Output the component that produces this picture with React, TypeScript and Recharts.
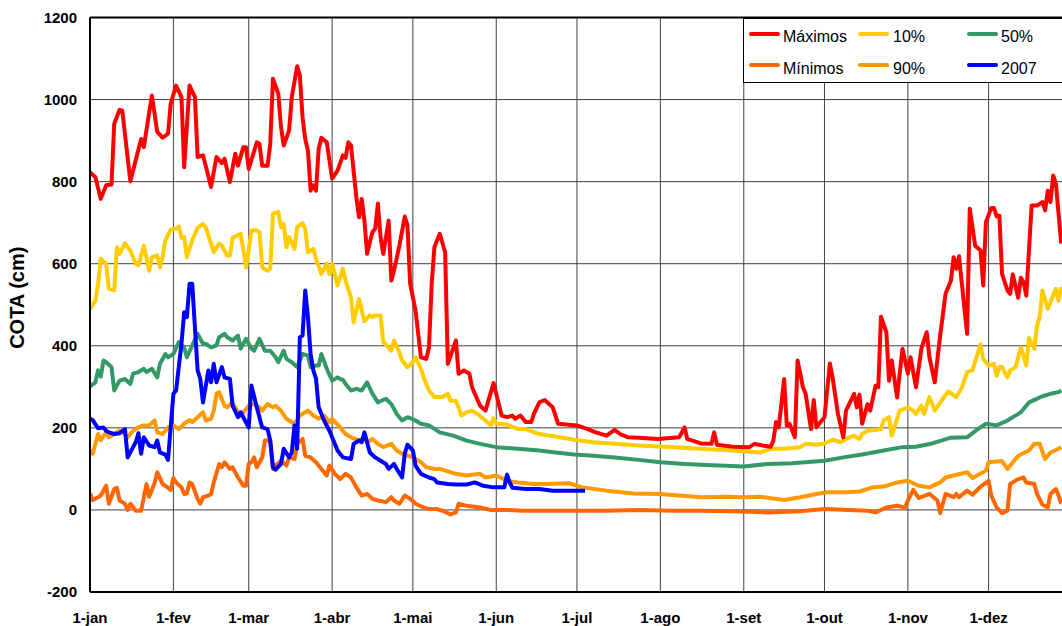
import React from 'react';
import { LineChart, Line, XAxis, YAxis, CartesianGrid, ReferenceLine, Legend } from 'recharts';

const monthTicks = [0, 31, 59, 90, 120, 151, 181, 212, 243, 273, 304, 334];
const monthLabels = ['1-jan', '1-fev', '1-mar', '1-abr', '1-mai', '1-jun', '1-jul', '1-ago', '1-set', '1-out', '1-nov', '1-dez'];
const yTicks = [-200, 0, 200, 400, 600, 800, 1000, 1200];

type P = [number, number];

const maximos: P[] = [[0,823],[2,811],[4,758],[6,791],[8,793],[9,941],[11,975],[12,973],[15,801],[19,904],[20,884],[23,1010],[25,921],[27,907],[29,917],[30,990],[32,1034],[34,1006],[35,835],[37,1034],[39,1006],[40,860],[42,864],[43,839],[45,787],[47,860],[49,845],[50,856],[52,799],[54,868],[55,839],[57,884],[58,884],[59,831],[62,896],[63,892],[64,839],[66,839],[67,892],[68,1051],[70,1014],[71,933],[72,888],[74,925],[75,1006],[77,1081],[78,1059],[79,957],[80,904],[81,876],[82,778],[83,791],[84,778],[85,880],[86,907],[88,896],[89,852],[90,807],[92,827],[94,864],[95,858],[96,896],[97,888],[99,762],[100,713],[101,758],[102,705],[103,624],[104,652],[105,677],[106,685],[107,747],[108,665],[109,624],[111,705],[112,559],[113,583],[115,644],[117,715],[118,693],[119,551],[121,486],[122,429],[123,372],[125,368],[126,396],[127,551],[128,640],[130,673],[132,628],[133,356],[136,413],[137,332],[139,340],[141,332],[142,299],[145,254],[147,242],[150,309],[153,230],[155,226],[157,230],[158,222],[160,230],[162,214],[164,214],[165,234],[167,262],[169,268],[170,262],[172,250],[174,210],[181,206],[185,197],[188,189],[192,181],[195,195],[197,185],[200,177],[204,176],[211,173],[219,177],[221,201],[222,173],[227,162],[231,161],[232,189],[233,159],[239,154],[245,153],[247,161],[250,157],[253,154],[254,169],[255,214],[256,201],[258,319],[259,206],[260,210],[262,177],[263,364],[265,299],[266,283],[268,197],[269,268],[270,201],[271,210],[273,226],[275,357],[276,323],[278,234],[280,177],[281,242],[284,283],[285,250],[286,281],[287,210],[289,258],[290,242],[292,303],[293,299],[294,471],[296,433],[297,315],[298,364],[300,274],[301,335],[302,393],[304,332],[305,372],[307,299],[309,393],[311,433],[312,372],[314,311],[316,425],[318,527],[320,559],[321,616],[322,588],[323,618],[326,429],[327,734],[329,644],[331,632],[332,547],[333,701],[335,736],[336,736],[337,715],[338,717],[339,575],[341,535],[342,527],[343,574],[345,517],[346,566],[347,555],[348,522],[350,742],[352,742],[354,750],[355,730],[356,778],[357,750],[358,815],[359,795],[361,649]];

const minimos: P[] = [[0,40],[1,24],[3,31],[4,35],[6,59],[7,15],[9,51],[10,54],[11,23],[13,15],[14,0],[15,15],[17,-2],[19,-2],[21,63],[22,32],[24,65],[25,92],[27,63],[28,59],[30,49],[31,78],[32,67],[34,55],[35,39],[36,40],[37,67],[38,63],[40,27],[41,15],[42,31],[44,35],[45,39],[46,67],[48,112],[49,104],[50,116],[52,100],[53,104],[55,79],[57,59],[58,59],[59,112],[60,116],[61,128],[62,104],[64,128],[65,169],[67,169],[68,100],[69,108],[71,120],[73,108],[74,128],[76,124],[77,161],[79,173],[80,132],[82,128],[84,116],[86,100],[88,84],[89,108],[91,88],[93,75],[95,88],[97,79],[99,55],[101,35],[103,39],[105,27],[107,23],[110,19],[112,31],[113,23],[115,15],[117,35],[119,27],[121,15],[124,6],[126,2],[129,2],[131,-2],[134,-11],[136,-6],[137,15],[140,10],[145,6],[149,0],[155,0],[161,-2],[167,-2],[180,-2],[192,-2],[204,0],[217,-2],[227,-2],[239,-3],[252,-6],[264,-3],[273,2],[282,0],[289,-2],[292,-6],[296,6],[300,10],[303,6],[304,23],[306,49],[308,29],[312,39],[315,23],[316,-8],[318,39],[321,31],[322,39],[323,31],[326,47],[328,37],[331,57],[334,71],[335,35],[337,6],[339,-8],[341,-2],[342,63],[345,75],[347,79],[348,67],[351,63],[352,39],[354,13],[356,6],[357,39],[359,51],[360,35],[361,15]];

const p10: P[] = [[0,490],[2,510],[3,551],[4,612],[6,600],[7,539],[9,535],[10,640],[11,624],[13,650],[15,632],[17,600],[18,596],[20,644],[22,583],[23,616],[25,620],[26,591],[27,616],[28,657],[30,683],[32,685],[33,691],[34,663],[35,665],[36,616],[38,657],[40,688],[42,697],[43,689],[45,649],[46,628],[48,649],[49,644],[51,620],[52,620],[53,663],[56,673],[58,591],[60,681],[62,681],[63,677],[64,591],[66,583],[67,588],[68,722],[70,726],[71,689],[72,697],[73,640],[74,665],[76,636],[77,689],[79,699],[80,685],[81,628],[83,636],[84,612],[86,575],[88,600],[89,575],[90,600],[92,547],[94,588],[95,559],[97,518],[98,457],[100,514],[102,460],[104,474],[105,470],[106,474],[108,474],[109,409],[111,396],[112,388],[113,413],[115,384],[116,364],[118,348],[120,360],[121,372],[123,344],[124,323],[126,291],[128,275],[131,275],[133,283],[134,266],[136,266],[137,250],[138,230],[140,238],[142,242],[144,234],[147,218],[149,206],[150,224],[151,210],[155,208],[159,197],[162,197],[167,185],[173,179],[180,171],[187,165],[195,161],[204,157],[217,153],[227,149],[239,145],[249,140],[253,149],[258,149],[264,153],[266,161],[270,159],[273,162],[276,171],[279,165],[281,173],[284,181],[286,173],[287,185],[289,193],[292,195],[294,197],[295,218],[297,226],[298,181],[300,222],[301,242],[304,250],[306,242],[307,234],[309,254],[310,234],[312,275],[314,242],[317,271],[319,289],[322,275],[324,297],[326,336],[328,340],[329,362],[331,403],[332,368],[334,352],[336,356],[337,327],[338,348],[339,348],[341,323],[342,340],[344,348],[346,396],[348,352],[349,419],[351,393],[352,449],[353,470],[354,535],[356,490],[359,539],[360,510],[361,543]];

const p50: P[] = [[0,301],[2,311],[3,340],[4,325],[5,364],[6,360],[8,348],[9,291],[11,315],[13,319],[15,307],[16,332],[18,336],[20,344],[21,336],[23,344],[25,323],[26,356],[28,380],[29,372],[31,380],[33,409],[35,396],[36,372],[38,401],[40,429],[42,405],[43,405],[45,396],[47,401],[48,421],[50,429],[51,421],[53,413],[55,425],[56,393],[58,417],[60,393],[61,388],[63,417],[65,388],[67,388],[69,372],[70,360],[72,388],[73,368],[75,360],[77,348],[79,380],[81,376],[82,348],[84,352],[85,352],[86,380],[88,344],[90,315],[92,323],[93,319],[94,317],[95,307],[97,291],[99,295],[101,291],[103,311],[105,283],[107,262],[110,271],[112,258],[114,234],[116,218],[118,226],[121,218],[123,210],[126,206],[130,189],[135,181],[140,169],[145,161],[151,153],[159,149],[167,145],[173,140],[180,135],[187,132],[195,128],[204,122],[212,116],[221,112],[227,110],[243,106],[252,112],[261,114],[273,120],[280,128],[287,135],[295,145],[302,153],[307,154],[313,162],[320,176],[326,177],[330,197],[333,210],[337,206],[341,218],[346,238],[349,262],[354,277],[357,283],[360,287],[361,291]];

const p90: P[] = [[0,145],[1,137],[3,185],[4,170],[6,189],[7,177],[9,185],[11,193],[12,189],[14,177],[16,193],[18,201],[20,206],[22,206],[24,218],[25,189],[27,185],[29,201],[31,206],[33,197],[35,210],[37,219],[38,214],[40,226],[42,238],[43,218],[45,222],[46,242],[47,283],[48,287],[50,254],[51,250],[53,262],[55,238],[56,230],[59,254],[61,258],[63,250],[64,242],[66,258],[68,250],[69,254],[71,242],[73,222],[76,210],[78,230],[81,242],[83,230],[85,222],[87,230],[89,214],[90,222],[93,201],[95,185],[97,177],[100,169],[102,177],[103,165],[105,173],[107,161],[109,153],[112,161],[114,145],[116,137],[120,128],[123,116],[125,104],[128,100],[130,100],[136,88],[140,84],[145,88],[147,79],[151,84],[155,71],[159,67],[165,63],[170,63],[178,65],[183,55],[192,47],[202,40],[212,39],[219,35],[227,31],[237,32],[243,31],[249,32],[258,24],[264,31],[270,39],[274,43],[281,43],[286,45],[291,55],[295,57],[300,67],[304,71],[308,59],[312,55],[316,67],[318,79],[321,84],[326,92],[328,78],[333,96],[334,116],[339,119],[341,100],[345,132],[349,145],[351,161],[353,161],[355,124],[357,140],[360,149],[361,153]];

const ano2007: P[] = [[0,222],[1,219],[3,199],[5,201],[6,193],[7,189],[9,185],[11,187],[13,197],[14,128],[16,153],[17,165],[18,187],[19,137],[20,177],[22,157],[24,153],[25,169],[26,140],[28,135],[29,122],[31,283],[32,291],[34,405],[35,482],[36,470],[37,551],[38,551],[39,445],[40,340],[41,319],[42,262],[44,340],[45,311],[46,356],[47,311],[49,348],[50,323],[52,319],[53,254],[55,226],[56,238],[59,201],[60,303],[62,250],[64,201],[66,197],[67,169],[68,104],[69,98],[71,112],[72,149],[74,128],[75,140],[76,206],[77,149],[78,421],[79,425],[80,535],[81,470],[82,380],[83,340],[84,320],[85,250],[87,218],[89,193],[90,177],[92,145],[94,128],[97,124],[98,161],[100,169],[101,165],[102,189],[104,140],[106,128],[108,120],[110,112],[111,100],[113,112],[114,100],[116,79],[117,137],[118,159],[120,145],[121,108],[123,88],[126,79],[128,75],[129,67],[133,63],[136,62],[140,62],[143,67],[146,59],[150,55],[154,55],[155,86],[156,67],[157,54],[162,51],[167,51],[172,47],[177,47],[184,47]];

const series = [
  { key: 'min', name: 'Mínimos', color: '#FF6600', pts: minimos },
  { key: 'p90', name: '90%', color: '#FF9900', pts: p90 },
  { key: 'p50', name: '50%', color: '#339966', pts: p50 },
  { key: 'p10', name: '10%', color: '#FFCC00', pts: p10 },
  { key: 'max', name: 'Máximos', color: '#FF0000', pts: maximos },
  { key: 'y2007', name: '2007', color: '#0000FF', pts: ano2007 },
];

const legendRows = [['max', 'p10', 'p50'], ['min', 'p90', 'y2007']];

function buildRows() {
  const map = new Map<number, any>();
  for (const s of series) {
    for (const [d, v] of s.pts) {
      if (!map.has(d)) map.set(d, { d });
      map.get(d)[s.key] = v;
    }
  }
  return Array.from(map.values()).sort((a, b) => a.d - b.d);
}

const rows = buildRows();
const FONT = '"Liberation Sans", Arial, Helvetica, sans-serif';

const LegendBox = () => {
  const lineLeft = [5, 114, 223];
  const textLeft = [39, 149, 257];
  const lineTop = [14.5, 46];
  return (
    <div style={{ position: 'relative', width: 340, height: 65, background: '#fff', border: '1px solid #000', boxSizing: 'border-box', fontFamily: FONT, fontSize: 16, color: '#000' }}>
      {legendRows.map((row, ri) =>
        row.map((key, ci) => {
          const s = series.find((x) => x.key === key)!;
          return (
            <React.Fragment key={key}>
              <div style={{ position: 'absolute', left: lineLeft[ci], top: lineTop[ri] - 2, width: 31, height: 4, borderRadius: 2, background: s.color }} />
              <span style={{ position: 'absolute', left: textLeft[ci], top: lineTop[ri] - 5.5, lineHeight: '18px', whiteSpace: 'nowrap' }}>{s.name}</span>
            </React.Fragment>
          );
        })
      )}
    </div>
  );
};

const YLabel = (props: any) => {
  const vb = props.viewBox || { x: 0, y: 0, width: 90, height: 574 };
  const cx = vb.x + 17;
  const cy = vb.y + vb.height / 2 - 7;
  return (
    <text x={cx} y={cy} transform={`rotate(-90 ${cx} ${cy})`} textAnchor="middle" dominantBaseline="central" fontFamily={FONT} fontWeight="bold" fontSize={20} fill="#000">
      COTA (cm)
    </text>
  );
};

export default function App() {
  return (
    <div style={{ position: 'absolute', left: 0, top: 0, width: 1062, height: 626, overflow: 'hidden', background: '#fff' }}>
      <LineChart width={1090} height={626} data={rows} margin={{ top: 17.5, right: 18, bottom: 0, left: 0 }}>
        <CartesianGrid stroke="#404040" strokeWidth={1} />
        <XAxis
          type="number"
          dataKey="d"
          domain={[0, 365]}
          ticks={monthTicks}
          interval={0}
          height={34}
          tickFormatter={(v: number) => monthLabels[monthTicks.indexOf(v)] ?? ''}
          axisLine={{ stroke: '#000', strokeWidth: 2 }}
          tickLine={false}
          tickSize={0}
          tickMargin={20}
          tick={{ fill: '#000', fontSize: 15, fontWeight: 'bold', fontFamily: FONT }}
          allowDataOverflow
        />
        <YAxis
          type="number"
          domain={[-200, 1200]}
          ticks={yTicks}
          interval={0}
          width={90}
          axisLine={{ stroke: '#000', strokeWidth: 2 }}
          tickLine={false}
          tickSize={0}
          tickMargin={13}
          tick={{ fill: '#000', fontSize: 15, fontWeight: 'bold', fontFamily: FONT }}
          label={{ content: YLabel }}
          allowDataOverflow
        />
        <ReferenceLine y={1200} stroke="#000" strokeWidth={2} />
        {series.map((s) => (
          <Line
            key={s.key}
            type="linear"
            dataKey={s.key}
            name={s.name}
            stroke={s.color}
            strokeWidth={4}
            strokeLinejoin="round"
            dot={false}
            activeDot={false}
            connectNulls
            isAnimationActive={false}
          />
        ))}
        <Legend
          layout="vertical"
          align="center"
          verticalAlign="middle"
          content={() => <LegendBox />}
          wrapperStyle={{ left: 743, top: 18, width: 340, height: 65, margin: 0, padding: 0 }}
        />
      </LineChart>
    </div>
  );
}
